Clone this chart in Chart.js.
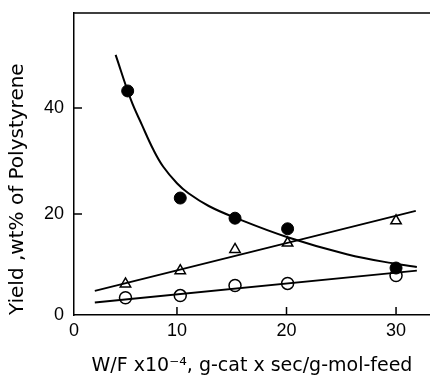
<!DOCTYPE html>
<html>
<head>
<meta charset="utf-8">
<script src="https://cdn.jsdelivr.net/npm/chart.js@4.4.1/dist/chart.umd.min.js"></script>
<style>
  html, body { margin: 0; padding: 0; background: #fff; }
  canvas { display: block; }
</style>
</head>
<body>
<canvas id="chart" width="430" height="383"></canvas>
<script>
// 축 눈금
const xTicks = [0, 10, 20, 30];
const yTicks = [0, 20, 40];

// 측정점
const filledX = [5.5, 10.3, 15.3, 20.1, 30];
const filledY = [43.2, 23.0, 19.2, 17.2, 9.8];
const triX = [5.3, 10.3, 15.3, 20.1, 30];
const triY = [6.8, 9.3, 13.3, 14.5, 18.7];
const openX = [5.3, 10.3, 15.3, 20.1, 30];
const openY = [4.2, 4.6, 6.5, 6.9, 8.4];

// 그려진 곡선/직선
const curveX = [4.4, 5.8, 6.8, 7.85, 8.75, 10.0, 11.05, 12.9, 15.3, 20.1, 25.5, 30.2, 31.9];
const curveY = [50.0, 41.5, 36.8, 32.1, 28.9, 25.8, 23.9, 21.5, 19.3, 15.6, 12.4, 10.5, 10.0];
const triLineX = [2.5, 31.8];
const triLineY = [5.5, 20.6];
const openLineX = [2.5, 31.9];
const openLineY = [3.3, 9.3];

const xMin = 0.6, xMax = 33.1;
const yMin = 0.94, yMax = 57.9;

function pts(xs, ys) {
    return xs.map((x, i) => ({x: x, y: ys[i]}));
}

// 안쪽 눈금 + 위쪽 테두리
const frame = {
    id: 'frame',
    afterDraw(chart) {
        const c = chart.ctx, a = chart.chartArea;
        const sx = chart.scales.x, sy = chart.scales.y;
        c.save();
        c.strokeStyle = '#000';
        c.lineWidth = 1.5;
        c.beginPath();
        c.moveTo(a.left, a.top);
        c.lineTo(a.right, a.top);
        xTicks.forEach(v => {
            if (v <= xMin) return;
            const p = sx.getPixelForValue(v);
            c.moveTo(p, a.bottom);
            c.lineTo(p, a.bottom - 8);
        });
        yTicks.forEach(v => {
            if (v <= yMin) return;
            const p = sy.getPixelForValue(v);
            c.moveTo(a.left, p);
            c.lineTo(a.left + 8, p);
        });
        c.stroke();
        c.restore();
    }
};

function fixTicks(list, min) {
    return function(scale) {
        scale.ticks = list.map(v => ({value: Math.max(v, min)}));
    };
}

const font = "'DejaVu Sans', sans-serif";
const tickFont = "'Liberation Sans', sans-serif";

new Chart(document.getElementById('chart'), {
    type: 'scatter',
    data: {
        datasets: [
            {data: pts(curveX, curveY), showLine: true, tension: 0.4,
             borderColor: '#000', borderWidth: 2, pointRadius: 0},
            {data: pts(triLineX, triLineY), showLine: true,
             borderColor: '#000', borderWidth: 1.8, pointRadius: 0},
            {data: pts(openLineX, openLineY), showLine: true,
             borderColor: '#000', borderWidth: 1.8, pointRadius: 0},
            {data: pts(filledX, filledY), pointStyle: 'circle', pointRadius: 6,
             backgroundColor: '#000', borderColor: '#000', borderWidth: 1},
            {data: pts(triX, triY), pointStyle: 'triangle', pointRadius: 6,
             backgroundColor: '#fff', borderColor: '#000', borderWidth: 1.5},
            {data: pts(openX, openY), pointStyle: 'circle', pointRadius: 6,
             backgroundColor: '#fff', borderColor: '#000', borderWidth: 1.5},
        ]
    },
    options: {
        responsive: false,
        animation: false,
        layout: {autoPadding: false, padding: {top: 13, right: 0, left: 0, bottom: 0}},
        plugins: {
            legend: {display: false},
            tooltip: {enabled: false},
        },
        scales: {
            x: {
                type: 'linear',
                min: xMin,
                max: xMax,
                afterBuildTicks: fixTicks(xTicks, xMin),
                afterFit: function(scale) {
                    scale.height = 68;
                    scale.paddingLeft = 0;
                    scale.paddingRight = 0;
                },
                grid: {display: false, drawTicks: false},
                border: {display: true, color: '#000', width: 1.5},
                ticks: {
                    color: '#000', padding: 5, font: {family: tickFont, size: 18},
                    callback: (v, i) => String(xTicks[i]),
                },
                title: {
                    display: true,
                    text: 'W/F x10\u207B\u2074, g-cat x sec/g-mol-feed',
                    color: '#000',
                    font: {family: font, size: 19},
                    padding: {top: 0, bottom: 6},
                },
            },
            y: {
                type: 'linear',
                min: yMin,
                max: yMax,
                afterBuildTicks: fixTicks(yTicks, yMin),
                afterFit: function(scale) {
                    scale.width = 74;
                    scale.paddingTop = 0;
                    scale.paddingBottom = 0;
                },
                grid: {display: false, drawTicks: false},
                border: {display: true, color: '#000', width: 1.5},
                ticks: {
                    color: '#000', padding: 10, font: {family: tickFont, size: 18},
                    callback: (v, i) => String(yTicks[i]),
                },
                title: {
                    display: true,
                    text: 'Yield ,wt% of Polystyrene',
                    color: '#000',
                    align: 'start',
                    font: {family: font, size: 20},
                    padding: {top: 6, bottom: 0},
                },
            },
        },
    },
    plugins: [frame],
});
</script>
</body>
</html>
